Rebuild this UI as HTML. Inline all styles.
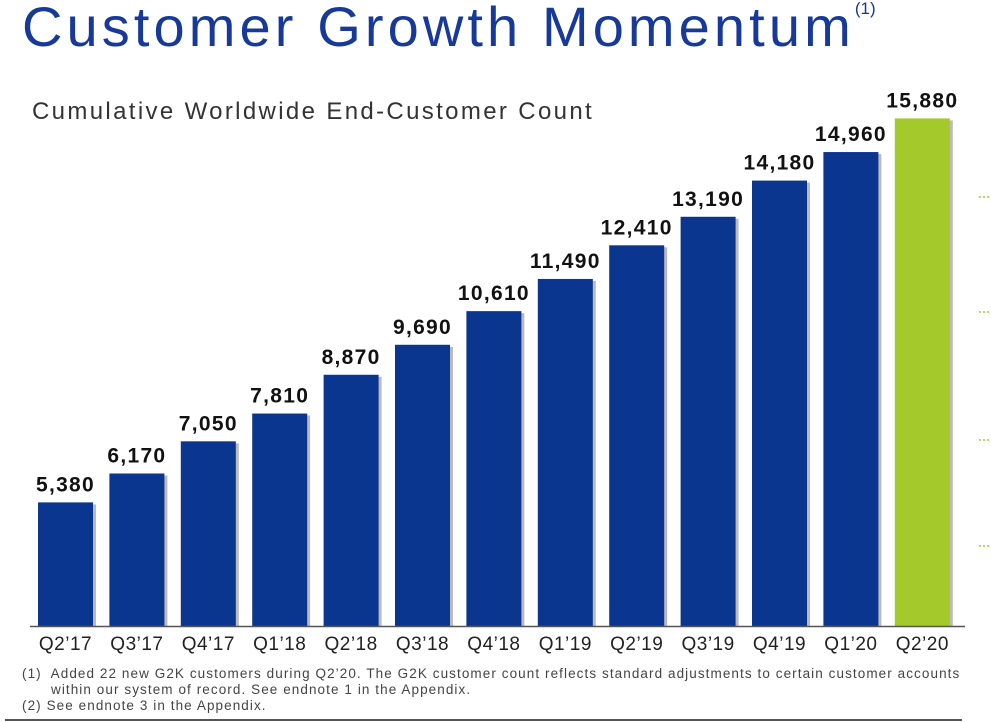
<!DOCTYPE html>
<html><head><meta charset="utf-8"><style>
body{margin:0;width:991px;height:722px;background:#fff;overflow:hidden;font-family:"Liberation Sans",sans-serif;position:relative}
.t{position:absolute;white-space:nowrap}
</style></head><body>
<div class="t" style="left:22px;top:-6px;font-size:56px;color:#16399a;letter-spacing:4.1px">Customer Growth Momentum<sup style="font-size:17px;vertical-align:32px;letter-spacing:0">(1)</sup></div>
<div class="t" style="left:32px;top:98px;font-size:24px;color:#333;letter-spacing:2.35px">Cumulative Worldwide End-Customer Count</div>
<svg id="chart" width="991" height="722" style="position:absolute;left:0;top:0"></svg>
<div class="t" style="left:22px;top:666px;font-size:13.5px;color:#444;line-height:16px;letter-spacing:1.08px">(1)&nbsp; Added 22 new G2K customers during Q2’20. The G2K customer count reflects standard adjustments to certain customer accounts<br>&nbsp;&nbsp;&nbsp;&nbsp;&nbsp;&nbsp;within our system of record. See endnote 1 in the Appendix.<br>(2) See endnote 3 in the Appendix.</div>
<div style="position:absolute;left:5px;top:719px;width:957px;height:2px;background:#555"></div>
<script>
const categories=["Q2’17","Q3’17","Q4’17","Q1’18","Q2’18","Q3’18","Q4’18","Q1’19","Q2’19","Q3’19","Q4’19","Q1’20","Q2’20"];
const values=[5380,6170,7050,7810,8870,9690,10610,11490,12410,13190,14180,14960,15880];
const labels=["5,380","6,170","7,050","7,810","8,870","9,690","10,610","11,490","12,410","13,190","14,180","14,960","15,880"];
const svg=document.getElementById('chart');const NS='http://www.w3.org/2000/svg';
const base=626,yMin=2000,scale=0.03657;
const y=v=>base-(v-yMin)*scale;
const x=i=>38+i*71.4;
function mk(tag,a){const e=document.createElementNS(NS,tag);for(const k in a)e.setAttribute(k,a[k]);svg.appendChild(e);return e;}
values.forEach((v,i)=>{
 const last=i===values.length-1;
 const sh=mk('rect',{x:x(i)+3,y:y(v)+2,width:55,height:base-y(v)-2,fill:'#bbb'});
 
 
 const r=mk('rect',{x:x(i),y:y(v),width:55,height:base-y(v),fill:last?'#a3c92b':'#0b3690'});
 
 
 const t=mk('text',{x:x(i)+27.5,y:y(v)-11,'text-anchor':'middle','font-size':'21','font-weight':'bold','letter-spacing':'1.3',fill:'#111','font-family':'Liberation Sans, sans-serif'});
 t.textContent=labels[i];
 
 
 const c=mk('text',{x:x(i)+27.5,y:650,'text-anchor':'middle','font-size':'19','letter-spacing':'0.5',fill:'#222','font-family':'Liberation Sans, sans-serif'});
 c.textContent=categories[i];
 
 
});
const ax=mk('line',{x1:30,x2:965,y1:base+0.5,y2:base+0.5,stroke:'#555','stroke-width':1.5});


[197,312,440,546].forEach(yy=>{const d=mk('line',{x1:979,x2:990,y1:yy,y2:yy,stroke:'#a3c92b','stroke-width':1.5,'stroke-dasharray':'2 2'});
 
 });
</script>
</body></html>
